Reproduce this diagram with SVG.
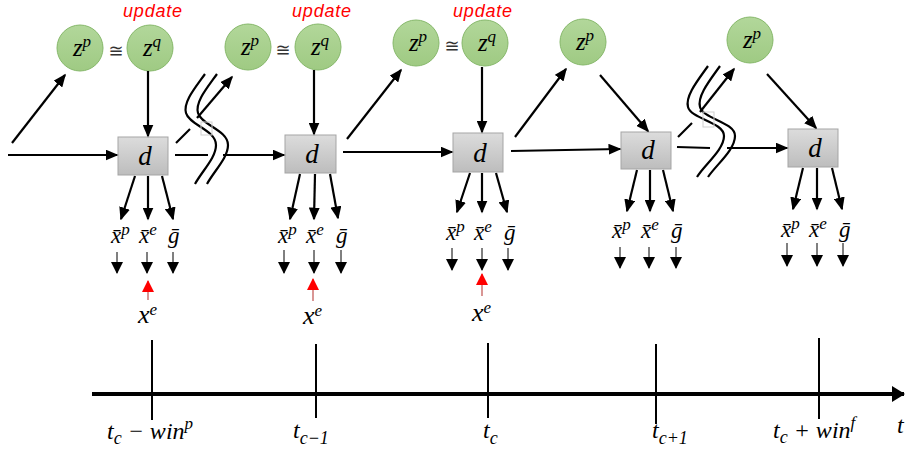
<svg xmlns="http://www.w3.org/2000/svg" width="906" height="452" viewBox="0 0 906 452">
  <style>
    .m { font-family: "Liberation Serif", "DejaVu Serif", serif; font-style: italic; fill: #000; }
    .lbl { font-size: 23px; }
    .z { font-size: 25px; }
    .ax { font-size: 24px; }
    .sup { font-size: 17px; }
    .sub { font-size: 18px; }
    .up { font-family: "Liberation Sans", Arial, sans-serif; font-style: italic; font-size: 18px; letter-spacing: 0.8px; fill: #ff0000; }
    .eq { font-family: "DejaVu Sans", "Liberation Sans", sans-serif; font-size: 18px; fill: #333; }
    .ln { stroke: #000; stroke-width: 2.2; fill: none; }
    .arr { stroke: #000; stroke-width: 2.2; fill: none; marker-end: url(#ah); }
    .small { stroke: #000; stroke-width: 1; fill: none; marker-end: url(#as); }
    .red { stroke: #c0504d; stroke-width: 1.2; fill: none; marker-end: url(#ar); }
    .brk { stroke: #000; stroke-width: 2.2; fill: none; }
    .ghost { stroke: #cfcfcf; stroke-width: 1; fill: none; }
    .tick { stroke: #000; stroke-width: 2; }
    .box rect { fill: url(#gbox); stroke: #a5a5a5; stroke-width: 1; }
    .lat circle { fill: url(#ggreen); stroke: #86b86a; stroke-width: 1; }
  </style>
  <defs>
    <linearGradient id="gbox" x1="0" y1="0" x2="0" y2="1">
      <stop offset="0" stop-color="#dcdcdc"/>
      <stop offset="1" stop-color="#bdbdbd"/>
    </linearGradient>
    <linearGradient id="ggreen" x1="0" y1="0" x2="0" y2="1">
      <stop offset="0" stop-color="#b2d79a"/>
      <stop offset="1" stop-color="#9fca83"/>
    </linearGradient>
    <marker id="ah" viewBox="0 0 13 11" refX="11.5" refY="5.5" markerWidth="13" markerHeight="11" markerUnits="userSpaceOnUse" orient="auto">
      <path d="M0,0 L13,5.5 L0,11 z" fill="#000"/>
    </marker>
    <marker id="as" viewBox="0 0 12 12" refX="11" refY="6" markerWidth="12" markerHeight="12" markerUnits="userSpaceOnUse" orient="auto">
      <path d="M0,0 L12,6 L0,12 z" fill="#000"/>
    </marker>
    <marker id="ar" viewBox="0 0 12 12" refX="11" refY="6" markerWidth="12" markerHeight="12" markerUnits="userSpaceOnUse" orient="auto">
      <path d="M0,0 L12,6 L0,12 z" fill="#ff0000"/>
    </marker>
    <marker id="at" viewBox="0 0 13 16" refX="12" refY="8" markerWidth="13" markerHeight="16" markerUnits="userSpaceOnUse" orient="auto">
      <path d="M0,0 L13,8 L0,16 z" fill="#000"/>
    </marker>
  </defs>

  <!-- latent nodes -->
  <g id="zp1" class="lat"><circle cx="80" cy="48" r="23"/><text class="m z" x="82" y="56" text-anchor="middle">z<tspan class="sup" dy="-9">p</tspan></text></g>
  <g id="zq1" class="lat"><circle cx="150" cy="48" r="23"/><text class="m z" x="152" y="56" text-anchor="middle">z<tspan class="sup" dy="-9">q</tspan></text></g>
  <g id="zp2" class="lat"><circle cx="248" cy="47" r="23"/><text class="m z" x="250" y="55" text-anchor="middle">z<tspan class="sup" dy="-9">p</tspan></text></g>
  <g id="zq2" class="lat"><circle cx="318" cy="47" r="23"/><text class="m z" x="320" y="55" text-anchor="middle">z<tspan class="sup" dy="-9">q</tspan></text></g>
  <g id="zp3" class="lat"><circle cx="416" cy="43" r="23"/><text class="m z" x="418" y="51" text-anchor="middle">z<tspan class="sup" dy="-9">p</tspan></text></g>
  <g id="zq3" class="lat"><circle cx="485" cy="43" r="23"/><text class="m z" x="487" y="51" text-anchor="middle">z<tspan class="sup" dy="-9">q</tspan></text></g>
  <g id="zp4" class="lat"><circle cx="583" cy="42" r="23"/><text class="m z" x="585" y="50" text-anchor="middle">z<tspan class="sup" dy="-9">p</tspan></text></g>
  <g id="zp5" class="lat"><circle cx="750" cy="40" r="23"/><text class="m z" x="752" y="48" text-anchor="middle">z<tspan class="sup" dy="-9">p</tspan></text></g>

  <!-- approximate-equality signs and update tags -->
  <g id="tags">
    <text class="eq" x="116" y="57" text-anchor="middle">≅</text>
    <text class="eq" x="283" y="56" text-anchor="middle">≅</text>
    <text class="eq" x="452" y="52" text-anchor="middle">≅</text>
    <text class="up" x="153" y="17" text-anchor="middle">update</text>
    <text class="up" x="322" y="17" text-anchor="middle">update</text>
    <text class="up" x="483" y="17" text-anchor="middle">update</text>
  </g>

  <!-- decoder nodes -->
  <g id="d1" class="box"><rect x="118" y="137" width="50" height="38"/><text class="m" font-size="27" x="145" y="165" text-anchor="middle">d</text></g>
  <g id="d2" class="box"><rect x="285" y="135" width="51" height="38"/><text class="m" font-size="27" x="312" y="163" text-anchor="middle">d</text></g>
  <g id="d3" class="box"><rect x="453" y="133" width="50" height="39"/><text class="m" font-size="27" x="480" y="162" text-anchor="middle">d</text></g>
  <g id="d4" class="box"><rect x="621" y="132" width="50" height="37"/><text class="m" font-size="27" x="648" y="159" text-anchor="middle">d</text></g>
  <g id="d5" class="box"><rect x="788" y="129" width="50" height="38"/><text class="m" font-size="27" x="815" y="157" text-anchor="middle">d</text></g>

  <!-- outputs -->
  <g id="out1">
    <text class="m lbl" x="111" y="243">x&#x304;<tspan class="sup" dy="-8">p</tspan></text>
    <text class="m lbl" x="139" y="243">x&#x304;<tspan class="sup" dy="-8">e</tspan></text>
    <text class="m lbl" x="168" y="243">g&#x304;</text>
  </g>
  <g id="out2">
    <text class="m lbl" x="278" y="243">x&#x304;<tspan class="sup" dy="-8">p</tspan></text>
    <text class="m lbl" x="306" y="243">x&#x304;<tspan class="sup" dy="-8">e</tspan></text>
    <text class="m lbl" x="336" y="243">g&#x304;</text>
  </g>
  <g id="out3">
    <text class="m lbl" x="446" y="240">x&#x304;<tspan class="sup" dy="-8">p</tspan></text>
    <text class="m lbl" x="474" y="240">x&#x304;<tspan class="sup" dy="-8">e</tspan></text>
    <text class="m lbl" x="504" y="240">g&#x304;</text>
  </g>
  <g id="out4">
    <text class="m lbl" x="612" y="238">x&#x304;<tspan class="sup" dy="-8">p</tspan></text>
    <text class="m lbl" x="641" y="238">x&#x304;<tspan class="sup" dy="-8">e</tspan></text>
    <text class="m lbl" x="671" y="238">g&#x304;</text>
  </g>
  <g id="out5">
    <text class="m lbl" x="781" y="237">x&#x304;<tspan class="sup" dy="-8">p</tspan></text>
    <text class="m lbl" x="809" y="237">x&#x304;<tspan class="sup" dy="-8">e</tspan></text>
    <text class="m lbl" x="839" y="237">g&#x304;</text>
  </g>

  <!-- observed inputs -->
  <g id="obs1"><text class="m" font-size="26" x="138" y="323">x<tspan class="sup" dy="-8">e</tspan></text></g>
  <g id="obs2"><text class="m" font-size="26" x="303" y="324">x<tspan class="sup" dy="-8">e</tspan></text></g>
  <g id="obs3"><text class="m" font-size="26" x="472" y="321">x<tspan class="sup" dy="-8">e</tspan></text></g>

  <!-- connectors -->
  <g id="connectors">
    <!-- step 1 -->
    <line class="arr" x1="8" y1="155" x2="117" y2="155"/>
    <line class="arr" x1="12" y1="143" x2="65" y2="75"/>
    <line class="arr" x1="148" y1="71" x2="148" y2="136"/>
    <line class="arr" x1="135" y1="176" x2="121" y2="219"/>
    <line class="arr" x1="148" y1="176" x2="148" y2="219"/>
    <line class="arr" x1="162" y1="176" x2="173" y2="219"/>
    <line class="ln" x1="176" y1="143" x2="190" y2="129"/>
    <line class="arr" x1="197" y1="118" x2="232" y2="77"/>
    <line class="ln" x1="175" y1="155" x2="208" y2="155"/>
    <line class="arr" x1="223" y1="155" x2="284" y2="155"/>
    <!-- step 2 -->
    <line class="arr" x1="314" y1="70" x2="314" y2="134"/>
    <line class="arr" x1="300" y1="174" x2="290" y2="219"/>
    <line class="arr" x1="315" y1="174" x2="314" y2="219"/>
    <line class="arr" x1="330" y1="174" x2="338" y2="218"/>
    <line class="arr" x1="347" y1="139" x2="401" y2="70"/>
    <line class="arr" x1="343" y1="152" x2="452" y2="152"/>
    <!-- step 3 -->
    <line class="arr" x1="482" y1="67" x2="482" y2="132"/>
    <line class="arr" x1="470" y1="173" x2="457" y2="212"/>
    <line class="arr" x1="482" y1="173" x2="482" y2="212"/>
    <line class="arr" x1="496" y1="173" x2="507" y2="212"/>
    <line class="arr" x1="515" y1="137" x2="566" y2="69"/>
    <line class="arr" x1="511" y1="151" x2="620" y2="149"/>
    <!-- step 4 -->
    <line class="arr" x1="600" y1="75" x2="648" y2="131"/>
    <line class="arr" x1="637" y1="170" x2="627" y2="211"/>
    <line class="arr" x1="650" y1="170" x2="650" y2="211"/>
    <line class="arr" x1="663" y1="170" x2="673" y2="211"/>
    <line class="ln" x1="678" y1="137" x2="692" y2="123"/>
    <line class="arr" x1="700" y1="112" x2="734" y2="69"/>
    <line class="ln" x1="677" y1="147" x2="710" y2="148"/>
    <line class="arr" x1="727" y1="148" x2="787" y2="148"/>
    <!-- step 5 -->
    <line class="arr" x1="767" y1="74" x2="816" y2="128"/>
    <line class="arr" x1="803" y1="168" x2="793" y2="209"/>
    <line class="arr" x1="817" y1="168" x2="817" y2="209"/>
    <line class="arr" x1="832" y1="168" x2="842" y2="209"/>
    <!-- propagated outputs -->
    <line class="small" x1="117" y1="252" x2="117" y2="273"/>
    <line class="small" x1="147" y1="252" x2="147" y2="273"/>
    <line class="small" x1="173" y1="252" x2="173" y2="273"/>
    <line class="small" x1="284" y1="250" x2="284" y2="273"/>
    <line class="small" x1="314" y1="250" x2="314" y2="273"/>
    <line class="small" x1="341" y1="250" x2="341" y2="273"/>
    <line class="small" x1="452" y1="248" x2="452" y2="270"/>
    <line class="small" x1="482" y1="248" x2="482" y2="270"/>
    <line class="small" x1="508" y1="248" x2="508" y2="270"/>
    <line class="small" x1="620" y1="247" x2="620" y2="268"/>
    <line class="small" x1="649" y1="247" x2="649" y2="268"/>
    <line class="small" x1="676" y1="247" x2="676" y2="268"/>
    <line class="small" x1="787" y1="243" x2="787" y2="266"/>
    <line class="small" x1="817" y1="243" x2="817" y2="266"/>
    <line class="small" x1="843" y1="243" x2="843" y2="266"/>
    <!-- observations fed back -->
    <line class="red" x1="148" y1="300" x2="148" y2="281"/>
    <line class="red" x1="313" y1="301" x2="313" y2="279"/>
    <line class="red" x1="482" y1="296" x2="482" y2="274"/>
  </g>

  <!-- time-skip breaks -->
  <g id="breaks">
    <path class="brk" d="M205,74 C195,88 183,102 186,113 C189,125 216,130 216,145 C216,158 202,171 195,184"/>
    <path class="brk" d="M217,74 C207,88 195,102 198,113 C201,125 228,130 228,145 C228,158 214,171 207,184"/>
    <rect class="ghost" x="201" y="122" width="11" height="13"/>
    <path class="brk" d="M708,66 C698,80 685,96 688,107 C691,119 724,122 724,136 C724,150 704,165 697,177"/>
    <path class="brk" d="M720,66 C710,80 697,96 700,107 C703,119 735,122 735,136 C735,150 716,165 708,177"/>
    <rect class="ghost" x="703" y="112" width="11" height="15"/>
  </g>

  <!-- time axis -->
  <g id="axis">
    <line x1="92" y1="394" x2="904" y2="394" stroke="#000" stroke-width="4" marker-end="url(#at)"/>
    <line class="tick" x1="152" y1="340" x2="152" y2="420"/>
    <line class="tick" x1="316" y1="344" x2="316" y2="418"/>
    <line class="tick" x1="488" y1="343" x2="488" y2="418"/>
    <line class="tick" x1="656" y1="344" x2="656" y2="424"/>
    <line class="tick" x1="819" y1="338" x2="819" y2="419"/>
    <text class="m ax" x="107" y="439">t<tspan class="sub" dy="5">c</tspan><tspan dy="-5"> − win</tspan><tspan class="sup" dy="-10">p</tspan></text>
    <text class="m ax" x="293" y="438">t<tspan class="sub" dy="6">c−1</tspan></text>
    <text class="m ax" x="483" y="438">t<tspan class="sub" dy="6">c</tspan></text>
    <text class="m ax" x="652" y="438">t<tspan class="sub" dy="6">c+1</tspan></text>
    <text class="m ax" x="773" y="438">t<tspan class="sub" dy="5">c</tspan><tspan dy="-5"> + win</tspan><tspan class="sup" dy="-10">f</tspan></text>
    <text class="m ax" x="897" y="433">t</text>
  </g>
</svg>
